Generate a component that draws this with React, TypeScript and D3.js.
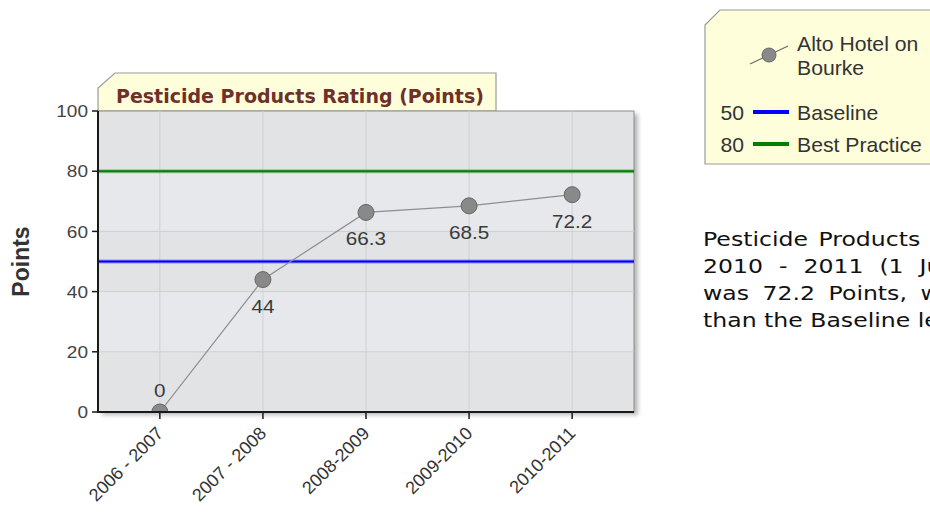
import React from 'react';
import * as d3 from 'd3';

// chart data
const categories = ['2006 - 2007', '2007 - 2008', '2008-2009', '2009-2010', '2010-2011'];
const seriesName = ['Alto Hotel on', 'Bourke'];
const seriesValues = [0, 44, 66.3, 68.5, 72.2];
const yTicks = [0, 20, 40, 60, 80, 100];
const refNames = ['Baseline', 'Best Practice'];
const refValues = [50, 80];
const refColors = ['#0000ff', '#008000'];
const chartTitle = 'Pesticide Products Rating (Points)';
const yTitle = 'Points';
const noteLines = [
  'Pesticide Products Rating for the period',
  '2010 - 2011 (1 July 2010 - 30 June 2011)',
  'was 72.2 Points, which is 22.2 Points higher',
  'than the Baseline level of 50 Points.',
];
const noteSpacing = [2.5, 7, 5, 0];

const W = 930, H = 518;
const plot = { left: 98, right: 634, top: 111, bottom: 412 };
const arial = '"Liberation Sans", Arial, sans-serif';
const verdana = '"DejaVu Sans", Verdana, sans-serif';

// text that is a little wider than the font draws it (the picture is stretched sideways)
function Wide(props: { x: number, y: number, sx: number, children: any, [k: string]: any }) {
  const { x, y, sx, children, ...rest } = props;
  return <text transform={`translate(${x},${y}) scale(${sx},1)`} {...rest}>{children}</text>;
}

export default function App() {
  const x = d3.scalePoint<string>().domain(categories).range([plot.left, plot.right]).padding(0.6);
  const y = d3.scaleLinear().domain([0, 100]).range([plot.bottom, plot.top]);

  const line = d3.line<number>()
    .x((d, i) => x(categories[i]) as number)
    .y(d => y(d));

  const bands = d3.pairs(yTicks);
  const pw = plot.right - plot.left, ph = plot.bottom - plot.top;

  return (
    <svg width={W} height={H} style={{ position: 'absolute', left: 0, top: 0, overflow: 'hidden' }}
      fontFamily={arial}>
      <defs>
        <filter id="shadow" x="-5%" y="-5%" width="115%" height="115%">
          <feGaussianBlur stdDeviation="2" />
        </filter>
        <clipPath id="plotClip">
          <rect x={plot.left} y={plot.top} width={pw} height={ph} />
        </clipPath>
        <clipPath id="pageClip">
          <rect x={0} y={0} width={W} height={H} />
        </clipPath>
      </defs>

      <rect width={W} height={H} fill="#ffffff" />

      {/* title tab */}
      <path d={`M${plot.left},${plot.top} L${plot.left},88 L115,73 L496,73 L496,${plot.top} Z`}
        fill="#fefedb" stroke="#9a9a9a" strokeWidth={1.2} />
      <text x={116} y={103} fontFamily={verdana} fontWeight="bold" fontSize={19} fill="#6e3029">{chartTitle}</text>

      {/* plot shadow and background */}
      <rect x={plot.left + 4} y={plot.top + 3} width={pw} height={ph} fill="#b8b8b8" filter="url(#shadow)" />
      {bands.map(([a, b], i) => (
        <rect key={'band' + i} x={plot.left} y={y(b)} width={pw} height={y(a) - y(b)}
          fill={i % 2 === 0 ? '#e2e3e5' : '#e6e8eb'} />
      ))}
      <rect x={plot.left} y={plot.top} width={pw} height={ph} fill="none" stroke="#8c8c8c" strokeWidth={1} />

      {/* grid */}
      {yTicks.slice(1, -1).map(t => (
        <line key={'hg' + t} x1={plot.left} x2={plot.right} y1={y(t)} y2={y(t)} stroke="#d0d0d2" strokeWidth={1} />
      ))}
      {categories.map(c => (
        <line key={'vg' + c} x1={x(c)} x2={x(c)} y1={plot.top} y2={plot.bottom} stroke="#d0d0d2" strokeWidth={1} />
      ))}

      {/* reference lines */}
      {refValues.map((v, i) => (
        <g key={'ref' + i}>
          <line x1={plot.left} x2={plot.right} y1={y(v)} y2={y(v)} stroke={refColors[i]} strokeOpacity={0.35} strokeWidth={4} />
          <line x1={plot.left} x2={plot.right} y1={y(v)} y2={y(v)} stroke={refColors[i]} strokeWidth={2} />
        </g>
      ))}

      {/* series */}
      <g clipPath="url(#plotClip)">
        <path d={line(seriesValues) || ''} fill="none" stroke="#8e8e8e" strokeWidth={1.2} />
        {seriesValues.map((v, i) => (
          <circle key={'pt' + i} cx={x(categories[i])} cy={y(v)} r={8} fill="#898989" stroke="#666" strokeWidth={1} />
        ))}
      </g>
      {seriesValues.map((v, i) => (
        <Wide key={'lbl' + i} x={x(categories[i]) as number} y={v === 0 ? y(v) - 15 : y(v) + 33} sx={1.15}
          textAnchor="middle" fontSize={18} fill="#3a3a3a">{String(v)}</Wide>
      ))}

      {/* axes */}
      <line x1={plot.left} x2={plot.left} y1={plot.top} y2={plot.bottom + 1} stroke="#1a1a1a" strokeWidth={2} />
      <line x1={plot.left - 1} x2={plot.right} y1={plot.bottom} y2={plot.bottom} stroke="#1a1a1a" strokeWidth={2} />
      {yTicks.map(t => (
        <g key={'yt' + t}>
          <line x1={plot.left - 6} x2={plot.left} y1={y(t)} y2={y(t)} stroke="#1a1a1a" strokeWidth={1.5} />
          <Wide x={plot.left - 10} y={y(t)} sx={1.12} dy="0.36em" textAnchor="end" fontSize={17} fill="#444">{t}</Wide>
        </g>
      ))}
      {categories.map(c => (
        <g key={'xt' + c}>
          <line x1={x(c)} x2={x(c)} y1={plot.bottom} y2={plot.bottom + 7} stroke="#1a1a1a" strokeWidth={1.5} />
          <text transform={`translate(${(x(c) as number)},${plot.bottom + 18}) rotate(-45)`} textAnchor="end"
            dy="0.35em" fontSize={18} fill="#333">{c}</text>
        </g>
      ))}
      <text transform={`translate(29,${(plot.top + plot.bottom) / 2}) rotate(-90)`} textAnchor="middle"
        fontSize={23} fontWeight="bold" fill="#333">{yTitle}</text>

      {/* legend */}
      <g clipPath="url(#pageClip)">
        <path d="M705,25 L720,10 L945,10 L945,164 L705,164 Z" fill="#fefedb" stroke="#9a9a9a" strokeWidth={1.2} />
        <line x1={750} x2={788} y1={64} y2={46} stroke="#6a6a6a" strokeWidth={1.2} />
        <circle cx={769} cy={55} r={7} fill="#898989" stroke="#666" strokeWidth={1} />
        {seriesName.map((s, i) => (
          <Wide key={'sn' + i} x={797} y={51 + i * 24} sx={1.06} fontSize={20} fill="#333">{s}</Wide>
        ))}
        {refNames.map((n, i) => (
          <g key={'lg' + i}>
            <Wide x={744} y={120 + i * 32} sx={1.06} textAnchor="end" fontSize={20} fill="#333">{refValues[i]}</Wide>
            <line x1={753} x2={789} y1={112 + i * 32} y2={112 + i * 32} stroke={refColors[i]} strokeWidth={4} />
            <Wide x={797} y={120 + i * 32} sx={1.06} fontSize={20} fill="#333">{n}</Wide>
          </g>
        ))}
      </g>

      {/* note text */}
      <g clipPath="url(#pageClip)" fontFamily={verdana} fontSize={19.5} fill="#111">
        {noteLines.map((l, i) => (
          <Wide key={'note' + i} x={703} y={246 + i * 27} sx={1.21} style={{ wordSpacing: noteSpacing[i] }}>{l}</Wide>
        ))}
      </g>
    </svg>
  );
}
